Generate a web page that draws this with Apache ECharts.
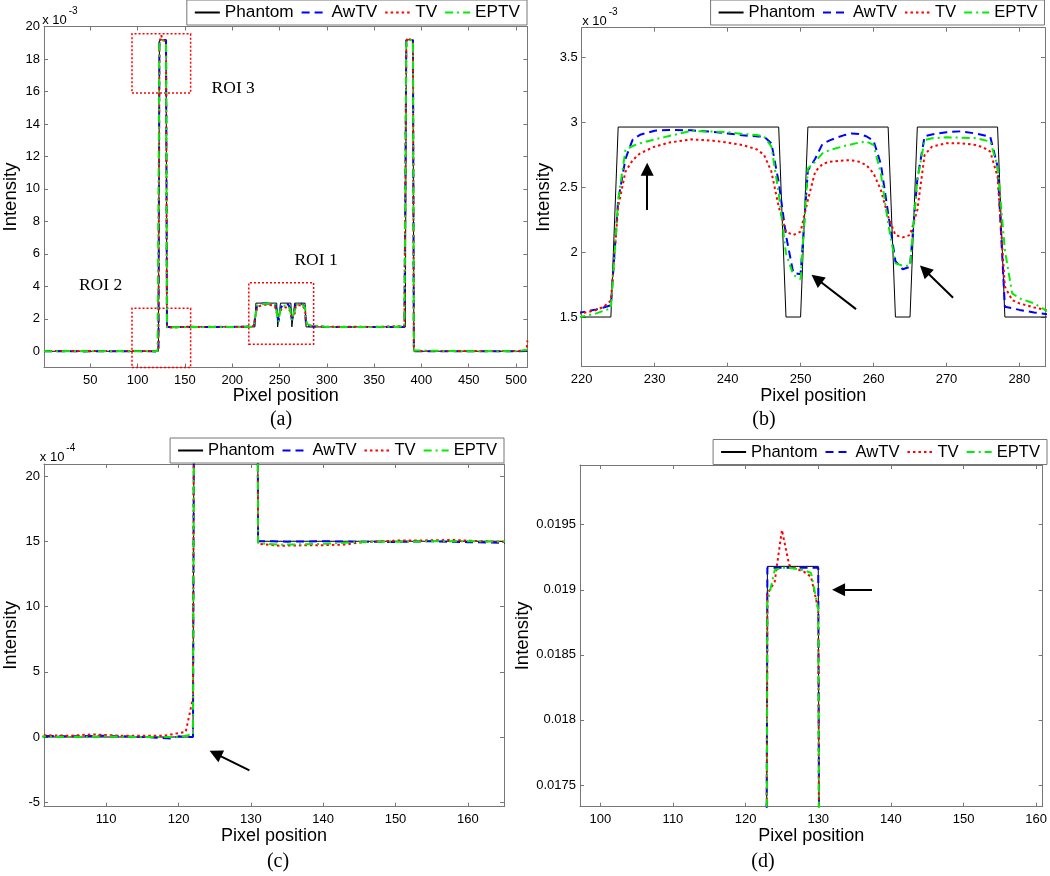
<!DOCTYPE html>
<html>
<head>
<meta charset="utf-8">
<script src="https://cdn.jsdelivr.net/npm/echarts@6/dist/echarts.min.js"></script>
<style>
html, body { margin: 0; background: #fff; }
#chart { width: 1050px; height: 876px; }
</style>
</head>
<body>
<div id="chart"></div>
<script>
// intensity profiles along the line, [pixel, intensity x 1e-3]
const phantom = [[1,0],[122,0],[123,19.18],[130,19.18],[131,1.5],[224,1.5],[225,2.965],[247,2.965],[248,1.5],[250,1.5],
    [251,2.965],[262,2.965],[263,1.5],[265,1.5],[266,2.965],[277,2.965],[278,1.5],[383,1.5],[384,19.18],[391,19.18],[392,0],[512,0]]

const awtv = [[1,0],[20,0.01],[40,-0.01],[60,0.01],[80,0],[100,0.01],[105,0.005],[110,0.01],[115,0],[117,-0.005],[119,-0.012],
    [120,0.005],[121,0],[122,0],[123,19.17],[130,19.17],[131,1.5],[133,1.5],[135,1.497],[140,1.5],[145,1.496],[150,1.495],
    [155,1.5],[160,1.493],[165,1.488],[180,1.5],[200,1.5],[215,1.51],[220,1.536],[221,1.546],[222,1.559],[223,1.574],
    [224,1.59],[225,2.4],[226,2.72],[227,2.87],[228,2.905],[230,2.937],[232,2.942],[235,2.94],[238,2.928],[240,2.915],
    [242,2.902],[244,2.893],[245,2.89],[246,2.84],[247,2.54],[248,2.13],[249,1.84],[250,1.83],[251,2.63],[252,2.72],
    [253,2.835],[254,2.862],[255,2.884],[256,2.903],[257,2.916],[258,2.911],[259,2.894],[260,2.86],[261,2.68],[262,2.3],
    [263,1.93],[264,1.868],[265,1.888],[266,2.56],[267,2.895],[268,2.908],[270,2.925],[272,2.932],[274,2.915],[276,2.89],
    [277,2.66],[278,1.58],[280,1.555],[282,1.535],[284,1.52],[300,1.5],[350,1.5],[382,1.5],[383,1.52],[384,19.17],
    [391,19.17],[392,0],[450,0],[500,0],[511,0.02],[512,0.3]]

const tv = [[1,0.01],[20,0.015],[40,0.01],[60,0.02],[80,0.01],[100,0.015],[105,0.01],[108,0.02],[110,0.015],[112,0.01],
    [115,0.01],[118,0.01],[119,0.02],[120,0.03],[121,0.04],[122,0.3],[123,18.97],[124,19.06],[125,19.46],[126,19.19],
    [127,19.16],[128,19.14],[129,19.1],[130,18.85],[131,1.48],[132,1.475],[134,1.465],[136,1.468],[140,1.47],[143,1.475],
    [145,1.49],[148,1.5],[150,1.505],[155,1.507],[158,1.51],[162,1.5],[165,1.495],[180,1.51],[200,1.5],[215,1.515],
    [220,1.528],[221,1.541],[222,1.554],[223,1.579],[224,1.626],[225,2.351],[226,2.621],[227,2.711],[228,2.762],[229,2.788],
    [230,2.814],[232,2.845],[235,2.87],[238,2.86],[240,2.845],[242,2.827],[244,2.793],[245,2.75],[246,2.621],[247,2.351],
    [248,2.158],[249,2.132],[250,2.158],[251,2.402],[252,2.621],[253,2.68],[254,2.698],[256,2.708],[257,2.708],[258,2.698],
    [259,2.672],[260,2.608],[261,2.48],[262,2.274],[263,2.132],[264,2.114],[265,2.132],[266,2.325],[267,2.75],[268,2.814],
    [270,2.84],[272,2.84],[274,2.827],[275,2.809],[276,2.775],[277,2.582],[278,1.734],[279,1.631],[280,1.605],[282,1.574],
    [284,1.55],[300,1.51],[350,1.5],[382,1.55],[383,1.6],[384,18.9],[385,19.3],[391,19.1],[392,0.2],[393,0.02],[450,0.01],
    [500,0.01],[511,0.05],[512,0.65]]

const eptv = [[1,0],[20,0.005],[40,0],[60,0.005],[80,0],[100,0.005],[105,0],[110,0.005],[115,0],[118,0],[120,0],[121,0.01],
    [122,0.02],[123,18.9],[124,19.15],[125,19.17],[126,19.17],[127,19.16],[128,19.15],[129,19.13],[130,18.85],[131,1.49],
    [132,1.48],[134,1.474],[136,1.476],[140,1.48],[144,1.492],[148,1.497],[152,1.497],[155,1.5],[160,1.5],[165,1.498],
    [180,1.5],[200,1.5],[215,1.505],[220,1.502],[221,1.515],[222,1.528],[223,1.548],[224,1.566],[225,2.402],[226,2.788],
    [227,2.819],[228,2.84],[230,2.87],[232,2.896],[235,2.935],[238,2.93],[240,2.925],[242,2.912],[244,2.904],[245,2.891],
    [246,2.814],[247,2.454],[248,1.99],[249,1.824],[250,1.793],[251,2.645],[252,2.698],[253,2.762],[254,2.788],[256,2.819],
    [258,2.845],[259,2.853],[260,2.827],[261,2.608],[262,2.222],[263,1.914],[264,1.896],[265,1.896],[266,2.557],[267,2.865],
    [268,2.878],[270,2.886],[274,2.88],[276,2.853],[277,2.66],[278,2.017],[279,1.682],[280,1.644],[282,1.605],[284,1.54],
    [300,1.5],[350,1.5],[382,1.52],[383,1.55],[384,19.0],[385,19.17],[391,19.15],[392,0.05],[393,0],[450,0],[500,0],[512,0.1]]

const names = ['Phantom', 'AwTV', 'TV', 'EPTV']
const curves = [phantom, awtv, tv, eptv]

// per panel: axis ranges, tick steps, and the factor from 1e-3 units to the panel's y units
const xRanges = [[1, 512], [220, 283.5], [101.4, 165], [97.2, 160.9]]
const yRanges = [[-1, 20], [1.117, 3.731], [-5.34, 20.92], [0.017333, 0.019959]]
const xSteps = [50, 10, 10, 10]
const ySteps = [2, 0.5, 5, 0.0005]
const yFactor = [1, 1, 10, 0.001]
const exponents = ['-3', '-3', '-4', null]
const panelLabels = ['(a)', '(b)', '(c)', '(d)']

// regions of interest in panel (a): [x0, y0, x1, y1] and their labels [x, y]
const roiBoxes = [[94, 15.9, 156, 19.55], [94, -1, 156, 2.65], [217.5, 0.43, 286, 4.22]]
const roiLabels = [['ROI 3', 201, 16.18], ['ROI 2', 60.8, 4.08], ['ROI 1', 288.6, 5.61]]

// arrows: [tailX, tailY, headX, headY] in each panel's units
const arrowsB = [[228.98, 2.325, 228.98, 2.639], [257.6, 1.561, 252.2, 1.795], [270.9, 1.648, 267.0, 1.863]]
const arrowsC = [[129.8, -2.55, 125.1, -1.27]]
const arrowsD = [[137.4, 0.019, 132.8, 0.019]]

const grids = [
    { left: 41.7, top: 26.5, width: 485.7, height: 341 },
    { left: 581.7, top: 27.7, width: 463.3, height: 339 },
    { left: 39.3, top: 464, width: 464.7, height: 342.7 },
    { left: 580, top: 465, width: 467.7, height: 341.7 }
]
const legendPos = [
    { right: 523, top: 0, fontSize: 17.2 },
    { right: 5.5, top: 0, fontSize: 16.6 },
    { right: 546, top: 438, fontSize: 16.6 },
    { right: 3, top: 439.5, fontSize: 16.6 }
]
const labelPos = [[281, 420], [764, 420], [278, 862], [763, 862]]
const yNameGap = [24, 28, 24, 48]
const xLabelEdges = [[false, false], [true, false], [false, false], [false, false]]
const yLabelEdges = [[false, true], [false, false], [false, false], [false, false]]

const sans = "'Liberation Sans', Arial, sans-serif"
const serif = "'Liberation Serif', 'Times New Roman', serif"
const axisGray = '#777'

const lineStyles = [
    { color: '#000000', width: 1, type: 'solid' },
    { color: '#0000ff', width: 2, type: [8, 5] },
    { color: '#ff0000', width: 2, type: [2.5, 3] },
    { color: '#00ee00', width: 2, type: [8, 4, 2, 4] }
]

function arrowData(list) {
    return list.map(a => [{ coord: [a[0], a[1]] }, { coord: [a[2], a[3]] }])
}

const chart = echarts.init(document.getElementById('chart'))

const xAxis = []
const yAxis = []
grids.forEach((g, p) => {
    xAxis.push({
        type: 'value', gridIndex: p, position: 'bottom',
        min: xRanges[p][0], max: xRanges[p][1], minInterval: xSteps[p], maxInterval: xSteps[p],
        axisLine: { show: true, onZero: false, lineStyle: { color: axisGray } },
        axisTick: { show: true, inside: true, length: 4, lineStyle: { color: axisGray } },
        axisLabel: { color: '#000', fontSize: 13, fontFamily: sans, margin: 6,
            showMinLabel: xLabelEdges[p][0], showMaxLabel: xLabelEdges[p][1] },
        splitLine: { show: false },
        name: 'Pixel position', nameLocation: 'middle', nameGap: 18,
        nameTextStyle: { color: '#000', fontSize: 18, fontFamily: sans }
    })
    yAxis.push({
        type: 'value', gridIndex: p, position: 'left',
        min: yRanges[p][0], max: yRanges[p][1], minInterval: ySteps[p], maxInterval: ySteps[p],
        axisLine: { show: true, onZero: false, lineStyle: { color: axisGray } },
        axisTick: { show: true, inside: true, length: 4, lineStyle: { color: axisGray } },
        axisLabel: { color: '#000', fontSize: 13, fontFamily: sans, margin: 4,
            showMinLabel: yLabelEdges[p][0], showMaxLabel: yLabelEdges[p][1] },
        splitLine: { show: false },
        name: 'Intensity', nameLocation: 'middle', nameGap: yNameGap[p],
        nameTextStyle: { color: '#000', fontSize: 18.5, fontFamily: sans }
    })
})
// mirrored box axes on top and right
grids.forEach((g, p) => {
    xAxis.push({
        type: 'value', gridIndex: p, position: 'top',
        min: xRanges[p][0], max: xRanges[p][1], minInterval: xSteps[p], maxInterval: xSteps[p],
        axisLine: { show: true, onZero: false, lineStyle: { color: axisGray } },
        axisTick: { show: true, inside: true, length: 4, lineStyle: { color: axisGray } },
        axisLabel: { show: false }, splitLine: { show: false }
    })
    yAxis.push({
        type: 'value', gridIndex: p, position: 'right',
        min: yRanges[p][0], max: yRanges[p][1], minInterval: ySteps[p], maxInterval: ySteps[p],
        axisLine: { show: true, onZero: false, lineStyle: { color: axisGray } },
        axisTick: { show: true, inside: true, length: 4, lineStyle: { color: axisGray } },
        axisLabel: { show: false }, splitLine: { show: false }
    })
})

const arrowLine = list => ({
    silent: true,
    symbol: ['none', 'triangle'],
    symbolSize: 13,
    label: { show: false },
    lineStyle: { color: '#000', width: 2, type: 'solid' },
    itemStyle: { color: '#000' },
    emphasis: { disabled: true },
    data: arrowData(list)
})

const series = []
grids.forEach((g, p) => {
    curves.forEach((curve, c) => {
        const s = {
            type: 'line',
            name: names[c],
            xAxisIndex: p,
            yAxisIndex: p,
            data: curve.map(([x, y]) => [x, y * yFactor[p]]),
            symbol: 'none',
            lineStyle: lineStyles[c],
            itemStyle: { color: lineStyles[c].color },
            emphasis: { disabled: true },
            z: 2 + c
        }
        if (c === 0 && p === 0) {
            s.markArea = {
                silent: true,
                itemStyle: { color: 'rgba(0,0,0,0)', borderColor: '#ff0000', borderWidth: 1.5, borderType: [2, 2] },
                label: { show: false },
                data: roiBoxes.map(b => [{ coord: [b[0], b[1]] }, { coord: [b[2], b[3]] }])
            }
            s.markPoint = {
                silent: true,
                symbol: 'circle',
                symbolSize: 1,
                itemStyle: { color: 'rgba(0,0,0,0)' },
                label: { show: true, position: 'inside', formatter: '{b}', color: '#000', fontSize: 17.5, fontFamily: serif },
                data: roiLabels.map(r => ({ name: r[0], coord: [r[1], r[2]] }))
            }
        }
        if (c === 0 && p === 1) s.markLine = arrowLine(arrowsB)
        if (c === 0 && p === 2) s.markLine = arrowLine(arrowsC)
        if (c === 0 && p === 3) s.markLine = arrowLine(arrowsD)
        series.push(s)
    })
})

const legend = legendPos.map(l => ({
    data: names,
    right: l.right,
    top: l.top,
    orient: 'horizontal',
    itemWidth: 25,
    itemHeight: 14,
    itemGap: 7,
    padding: [4, 7, 4, 7],
    borderColor: axisGray,
    borderWidth: 1,
    backgroundColor: '#fff',
    selectedMode: false,
    itemStyle: { opacity: 0 },
    textStyle: { color: '#000', fontSize: l.fontSize, fontFamily: sans }
}))

const graphic = []
grids.forEach((g, p) => {
    graphic.push({
        type: 'text', x: labelPos[p][0], y: labelPos[p][1],
        style: { text: panelLabels[p], fontSize: 20, fontFamily: serif, fill: '#000',
            align: 'center', verticalAlign: 'middle', textAlign: 'center', textVerticalAlign: 'middle' }
    })
    if (exponents[p]) {
        graphic.push({
            type: 'text', x: g.left + 0.5, y: g.top,
            style: { text: 'x 10', fontSize: 13, fontFamily: sans, fill: '#000',
                align: 'left', verticalAlign: 'bottom', textAlign: 'left', textVerticalAlign: 'bottom' }
        })
        graphic.push({
            type: 'text', x: g.left + 27, y: g.top - 10.5,
            style: { text: exponents[p], fontSize: 10, fontFamily: sans, fill: '#000',
                align: 'left', verticalAlign: 'bottom', textAlign: 'left', textVerticalAlign: 'bottom' }
        })
    }
})

chart.setOption({
    animation: false,
    backgroundColor: '#fff',
    grid: grids,
    xAxis: xAxis,
    yAxis: yAxis,
    legend: legend,
    series: series,
    graphic: graphic
})
</script>
</body>
</html>
